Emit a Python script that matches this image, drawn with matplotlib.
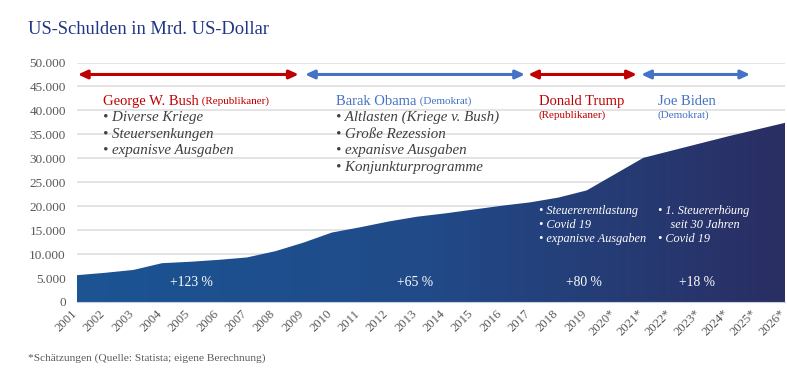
import matplotlib
matplotlib.use('Agg')
from matplotlib import pyplot
import numpy
import matplotlib.ticker as ticker
import matplotlib.transforms as mtrans
from matplotlib.colors import LinearSegmentedColormap

pyplot.rcParams['font.family'] = ['Liberation Serif', 'DejaVu Serif']

years = ['2001', '2002', '2003', '2004', '2005', '2006', '2007', '2008', '2009',
         '2010', '2011', '2012', '2013', '2014', '2015', '2016', '2017', '2018',
         '2019', '2020*', '2021*', '2022*', '2023*', '2024*', '2025*', '2026*']
debt = [5600, 6100, 6700, 8100, 8400, 8800, 9300, 10600, 12400,
        14500, 15600, 16800, 17800, 18500, 19300, 20100, 20800, 21800,
        23300, 26700, 30100, 31600, 33100, 34600, 36000, 37400]

terms = [('George W. Bush', '(Republikaner)', '#c00000'),
         ('Barak Obama', '(Demokrat)', '#4472c4'),
         ('Donald Trump', '(Republikaner)', '#c00000'),
         ('Joe Biden', '(Demokrat)', '#4472c4')]
bush_points = ['Diverse Kriege', 'Steuersenkungen', 'expanisve Ausgaben']
obama_points = ['Altlasten (Kriege v. Bush)', 'Große Rezession',
                'expanisve Ausgaben', 'Konjunkturprogramme']
trump_points = ['Steuererentlastung', 'Covid 19', 'expanisve Ausgaben']
biden_points = ['1. Steuererhöung', '    seit 30 Jahren', 'Covid 19']
growth = ['+123 %', '+65 %', '+80 %', '+18 %']

x = numpy.arange(len(years))

fig = pyplot.figure(figsize=(7.87, 3.92), dpi=100)
ax = fig.add_axes([77/787, 90/392, 708/787, 239.5/392])
ax.set_xlim(0, len(years)-1)
ax.set_ylim(0, 50000)

# Flaeche mit Farbverlauf
poly = ax.fill_between(x, debt, 0, color='none', lw=0)
cmap = LinearSegmentedColormap.from_list('g', ['#1b5494', '#214a88', '#2a2e63'])
grad = numpy.linspace(0, 1, 256).reshape(1, -1)
im = ax.imshow(grad, extent=[0, len(years)-1, 0, 50000], aspect='auto',
               cmap=cmap, origin='lower', zorder=2)
im.set_clip_path(poly.get_paths()[0], transform=ax.transData)

ax.yaxis.set_major_locator(ticker.MultipleLocator(5000))
ax.yaxis.set_major_formatter(ticker.FuncFormatter(lambda v, p: f'{int(v):,}'.replace(',', '.')))
ax.grid(axis='y', color='#dcdcdc', lw=1.1, zorder=0)
ax.set_axisbelow(True)
for s in ['top', 'right', 'left']:
    ax.spines[s].set_visible(False)
ax.spines['bottom'].set_color('#c8d0dc')
ax.spines['bottom'].set_zorder(3)
ax.tick_params(axis='y', length=0, pad=8, labelsize=9.5, labelcolor='#595959')
ax.set_xticks(x)
ax.set_xticklabels(years, rotation=45, ha='right', rotation_mode='anchor',
                   fontsize=9.2, color='#595959')
ax.tick_params(axis='x', length=0, pad=4)
shift = mtrans.ScaledTranslation(-6/100, 0, fig.dpi_scale_trans)
for lab in ax.get_xticklabels():
    lab.set_transform(lab.get_transform() + shift)

# Pfeile fuer die Amtszeiten
spans = [(0.03, 7.83), (8.05, 15.82), (15.93, 19.77), (19.92, 23.77)]
for (name, party, col), (s0, s1) in zip(terms, spans):
    ax.annotate('', xy=(s1, 47500), xytext=(s0, 47500),
                arrowprops=dict(arrowstyle='<|-|>,head_length=0.55,head_width=0.25',
                                color=col, lw=2.2, shrinkA=0, shrinkB=0))

# Namen
t = ax.text(0.92, 41900, terms[0][0], color=terms[0][2], fontsize=10.5, va='center')
ax.annotate(' ' + terms[0][1], xycoords=t, xy=(1, 0.3), color=terms[0][2],
            fontsize=8, va='baseline')
t = ax.text(9.15, 41900, terms[1][0], color=terms[1][2], fontsize=10.5, va='center')
ax.annotate(' ' + terms[1][1], xycoords=t, xy=(1, 0.3), color=terms[1][2],
            fontsize=8, va='baseline')
ax.text(16.31, 41900, terms[2][0], color=terms[2][2], fontsize=10.5, va='center')
ax.text(16.31, 39000, terms[2][1], color=terms[2][2], fontsize=8, va='center')
ax.text(20.51, 41900, terms[3][0], color=terms[3][2], fontsize=10.5, va='center')
ax.text(20.51, 39000, terms[3][1], color=terms[3][2], fontsize=8, va='center')

for i, s in enumerate(bush_points):
    ax.text(0.92, 38500 - i*3450, '• ' + s, style='italic', color='#404040',
            fontsize=10.8, va='center')
for i, s in enumerate(obama_points):
    ax.text(9.15, 38500 - i*3450, '• ' + s, style='italic', color='#404040',
            fontsize=10.8, va='center')
for i, s in enumerate(trump_points):
    ax.text(16.31, 19100 - i*3000, '• ' + s, style='italic', color='white',
            fontsize=8.8, va='center', zorder=4)
for i, s in enumerate(biden_points):
    pre = '' if s.startswith(' ') else '• '
    ax.text(20.51, 19100 - i*3000, pre + s, style='italic', color='white',
            fontsize=8.8, va='center', zorder=4)

for lbl, cx in zip(growth, [4.03, 11.93, 17.90, 21.88]):
    ax.text(cx, 4000, lbl, color='white', fontsize=9.8, ha='center', va='center',
            zorder=4)

fig.text(28/787, 1-29/392, 'US-Schulden in Mrd. US-Dollar', color='#1f3680',
         fontsize=13.3, va='center')
fig.text(28/787, 1-358/392, '*Schätzungen (Quelle: Statista; eigene Berechnung)',
         color='#595959', fontsize=8.2, va='center')

fig.savefig('out.png', dpi=100)
